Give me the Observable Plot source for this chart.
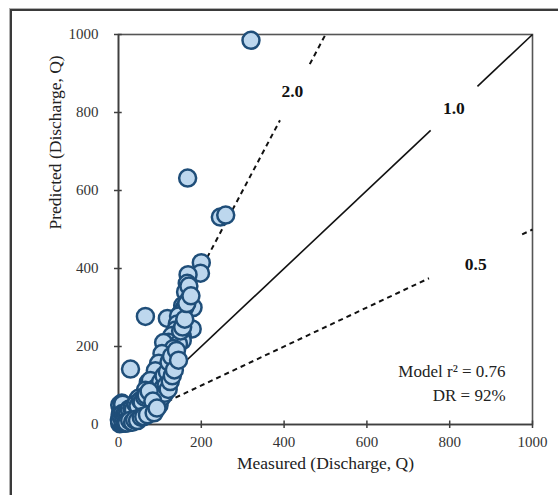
<!DOCTYPE html>
<html>
<head>
<meta charset="utf-8">
<script src="https://cdn.jsdelivr.net/npm/d3@7"></script>
<script src="https://cdn.jsdelivr.net/npm/@observablehq/plot@0.6"></script>
<style>
  html, body { margin: 0; padding: 0; background: #fff; overflow: hidden; }
  #wrap { position: relative; width: 558px; height: 495px; }
  #border { position: absolute; left: 10px; top: 9px; width: 560px; height: 500px;
            border-left: 2px solid #3a3a3a; border-top: 2px solid #3a3a3a;
            box-shadow: -1px -1px 0 #b0b0b0; }
  #chart { position: absolute; left: 0; top: 0; }
  svg { font-family: "Liberation Serif", "DejaVu Serif", serif; }
</style>
</head>
<body>
<div id="wrap"><div id="border"></div><div id="chart"></div></div>
<script>
// Measured vs predicted discharge
const measured = [
  320,167,246,259,200,198,168,166,162,170,155,180,160,150,65,118,145,142,178,138,
  129,154,121,154,109,145,133,105,97,126,29,89,113,72,101,77,65,48,36,17,7,5,
  3,5,8,10,12,15,15,18,20,22,25,25,28,30,30,33,35,38,40,40,43,45,48,50,
  52,55,58,60,62,65,68,70,72,75,78,80,82,85,88,90,92,95,98,100,102,105,108,110,
  112,115,118,120,122,125,128,130,135,140,145,150,155,160,165,170,175,
  3,6,4,2,8,12,10,
  6,9,14,18,22,26,32,36,42,47,53,57,63,67,74,83,11,16,24,31,44,56,
  20,27,34,39,46,55,61,70,86,93
];
const predicted = [
  985,632,532,537,415,388,384,362,340,320,305,300,300,285,277,272,278,258,245,242,
  228,226,211,215,210,207,195,182,157,147,142,138,121,108,113,113,88,67,50,41,31,10,
  2,5,3,8,12,6,18,10,22,14,8,28,18,12,35,24,15,30,20,45,28,35,22,40,
  30,48,35,28,55,42,60,35,50,65,45,72,55,40,80,62,95,75,50,88,110,70,95,125,
  80,100,135,90,160,110,175,125,140,190,165,240,250,270,310,355,330,
  50,35,25,12,55,40,52,
  20,28,25,32,30,40,42,38,52,48,62,58,70,75,85,60,4,3,5,10,14,20,
  4,10,6,12,10,18,20,25,30,42
];

// Reference ratio lines: ratio, label, label position, gap around label
const ratios      = [1, 2, 0.5];
const ratioLabels = ["1.0", "2.0", "0.5"];
const labelX      = [810, 420, 863];
const labelY      = [810, 855, 410];
const gapFrom     = [754, 390, 750];   // measured value where line breaks
const gapTo       = [867, 462, 975];   // measured value where line resumes
const dashed      = [false, true, true];

const xTicks = [0, 200, 400, 600, 800, 1000];
const yTicks = [0, 200, 400, 600, 800, 1000];
const xTitle = "Measured (Discharge, Q)";
const yTitle = "Predicted (Discharge, Q)";

const points = measured.map((m, i) => ({m, p: predicted[i]}));
const segs = [];
ratios.forEach((r, i) => {
  segs.push({k: i, part: 0, x1: 0, y1: 0, x2: gapFrom[i], y2: gapFrom[i] * r, dashed: dashed[i]});
  segs.push({k: i, part: 1, x1: gapTo[i], y1: gapTo[i] * r, x2: 1000 / Math.max(1, r), y2: 1000 / Math.max(1, r) * r, dashed: dashed[i]});
});
const labels = ratioLabels.map((t, i) => ({t, x: labelX[i], y: labelY[i]}));
const stats = [{t: "Model r\u00B2 = 0.76", y: 137}, {t: "DR = 92%", y: 75}];

const ink = "#3f3f3f";
const chart = Plot.plot({
  width: 558,
  height: 495,
  marginLeft: 118,
  marginRight: 26,
  marginTop: 34,
  marginBottom: 71,
  style: {fontFamily: "'Liberation Serif', serif", fontSize: "14px", color: "#333"},
  x: {domain: [0, 1000]},
  y: {domain: [0, 1000]},
  marks: [
    Plot.frame({stroke: "#555", strokeWidth: 1.6}),
    Plot.axisX({ticks: xTicks, tickFormat: d => String(d), tickSize: 4, tickPadding: 8, stroke: ink, strokeWidth: 1.5, fill: "#333",
                fontSize: 15, label: null}),
    Plot.axisY({ticks: yTicks, tickFormat: d => String(d), tickSize: 4, tickPadding: 16, stroke: ink, strokeWidth: 1.5, fill: "#333",
                fontSize: 15, label: null}),
    Plot.text([xTitle], {frameAnchor: "bottom", dy: 44, text: d => d, fontSize: 17.5, fill: "#222"}),
    Plot.text([yTitle], {frameAnchor: "left", dx: -63, rotate: -90, text: d => d, fontSize: 17.5, fill: "#222"}),
    Plot.ruleX(xTicks, {x: d => d, y1: 0, y2: 9, stroke: ink, strokeWidth: 1.5}),
    Plot.ruleY(yTicks, {y: d => d, x1: 0, x2: 9, stroke: ink, strokeWidth: 1.5}),
    Plot.ruleY([0], {stroke: ink, strokeWidth: 1.6}),
    Plot.ruleX([0], {stroke: ink, strokeWidth: 1.6}),
    Plot.link(segs.filter(d => !d.dashed), {x1: "x1", y1: "y1", x2: "x2", y2: "y2", stroke: "#111", strokeWidth: 1.6}),
    Plot.link(segs.filter(d => d.dashed), {x1: "x1", y1: "y1", x2: "x2", y2: "y2", stroke: "#111", strokeWidth: 2, strokeDasharray: "5,4"}),
    Plot.text(labels, {x: "x", y: "y", text: "t", fontWeight: "bold", fontSize: 17.5, fill: "#111"}),
    Plot.text(stats, {x: 935, y: "y", text: "t", textAnchor: "end", fontSize: 17, fill: "#222"}),
    Plot.dot(points, {x: "m", y: "p", r: 8.5, fill: "#bdd7ee", stroke: "#1f4e79", strokeWidth: 2.5})
  ]
});
document.getElementById("chart").appendChild(chart);
</script>
</body>
</html>
